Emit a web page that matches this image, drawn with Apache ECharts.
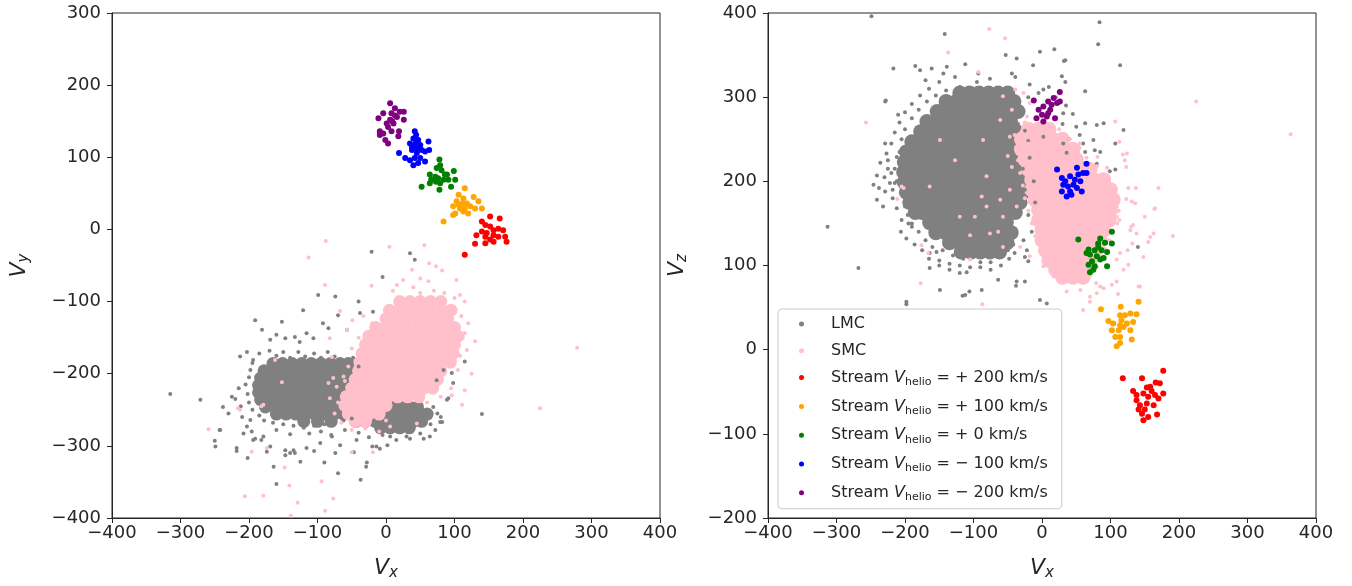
<!DOCTYPE html>
<html><head><meta charset="utf-8">
<script src="https://cdn.jsdelivr.net/npm/echarts@6/dist/echarts.min.js"></script>
<style>html,body{margin:0;padding:0;background:#fff}#c{width:1352px;height:586px}</style>
</head><body><div id="c"></div>
<script>
// ---------- axis ticks ----------
const xTicks = [-400, -300, -200, -100, 0, 100, 200, 300, 400];
const yTicksLeft = [-400, -300, -200, -100, 0, 100, 200, 300];
const zTicksRight = [-200, -100, 0, 100, 200, 300, 400];

// ---------- legend names ----------
const seriesNames = ['LMC', 'SMC', 'Stream +200', 'Stream +100', 'Stream +0', 'Stream -100', 'Stream -200'];
const streamLabels = ['+ 200', '+ 100', '+ 0', '\u2212 100', '\u2212 200'];

// ---------- LEFT PANEL (Vx, Vy) ----------
// dense LMC core rows: [Vy, [Vx ...]]
const lmcCoreRowsXY = [
  [-186, [-165,-151,-137,-123,-109,-95,-81,-67,-55]],
  [-196, [-178,-164,-150,-136,-122,-108,-94,-80,-66,-52]],
  [-206, [-183,-169,-155,-141,-127,-113,-99,-85,-71,-57,-45]],
  [-216, [-186,-172,-158,-144,-130,-116,-102,-88,-74,-60,-46]],
  [-226, [-186,-172,-158,-144,-130,-116,-102,-88,-74,-60,-46,-36]],
  [-236, [-183,-169,-155,-141,-127,-113,-99,-85,-71,-57,-43,-30]],
  [-246, [-176,-162,-148,-134,-120,-106,-92,-78,-64,-50,-36,-22,-8,6,20,34,46]],
  [-256, [-160,-146,-132,-118,-104,-90,-76,-62,-48,-34,-20,-6,8,22,36,50,60]],
  [-266, [-120,-100,-80,-44,-30,-16,-2,12,26,40,52]],
  [-275, [-8,6,20,34]]
];
// dense SMC core rows: [Vy, [Vx ...]]
const smcCoreRowsXY = [
  [-100, [20,35,50,65,80]],
  [-112, [5,20,35,50,65,80,95]],
  [-124, [0,15,30,45,60,75,90]],
  [-136, [-15,0,15,30,45,60,75,90,100]],
  [-148, [-25,-10,5,20,35,50,65,80,95,105]],
  [-160, [-30,-15,0,15,30,45,60,75,90,100]],
  [-172, [-35,-20,-5,10,25,40,55,70,85,98]],
  [-184, [-38,-23,-8,7,22,37,52,67,82,94]],
  [-196, [-40,-25,-10,5,20,35,50,65,80]],
  [-208, [-45,-30,-15,0,15,30,45,60,75]],
  [-220, [-50,-35,-20,-5,10,25,40,55,68]],
  [-232, [-58,-43,-28,-13,2,17,32,48]],
  [-244, [-60,-45,-30,-15,0]],
  [-256, [-55,-40,-25,-10]],
  [-266, [-45,-30]]
];
const lmcXY = [
  [-315,-228],[-271,-236],[-243,-278],[-250,-293],[-249,-301],[-218,-307],[-202,-317],[-164,-329],[-160,-353],[-125,-322],
  [-90,-323],[-70,-338],[-37,-347],[-28,-323],[-29,-329],[-105,-307],[-74,-310],[-47,-309],[-20,-301],[-9,-304],[2,-299],
  [-140,-310],[-135,-306],[-147,-313],[-174,-308],[-182,-292],[-191,-290],[-196,-280],[-203,-273],[-198,-264],
  [-191,-126],[-152,-128],[-181,-139],[-121,-112],[-99,-91],[-74,-93],[-70,-119],[-92,-130],[-84,-137],[-57,-139],
  [-38,-116],[-40,-100],[-19,-114],[-169,-153],[-160,-146],[-147,-151],[-133,-149],[-126,-156],[-116,-144],[-106,-151],
  [-213,-176],[-203,-170],[-194,-181],[-225,-232],[-238,-246],[-230,-255],[-242,-278],[-218,-303],[-208,-283],[-194,-292],
  [-179,-287],[-169,-301],[-147,-306],[-133,-310],[-116,-303],[-96,-296],[-79,-287],[-67,-299],[-43,-292],[-14,-301],
  [6,-287],[30,-287],[50,-283],[64,-287],[79,-267],[91,-234],[98,-213],[84,-195],[115,-183],[74,-209],[69,-246],
  [-21,-31],[35,-33],[42,-42],[-5,-66],[96,-199],[82,-267],[89,-236],[140,-256],
  [-185,-172],[-170,-168],[-160,-175],[-150,-170],[-140,-178],[-128,-170],[-118,-176],[-105,-172],[-95,-178],[-85,-170],
  [-75,-176],[-65,-182],[-55,-188],[-48,-178],[-40,-190],[-195,-185],[-198,-195],[-200,-205],[-205,-215],[-202,-228],
  [-200,-240],[-195,-250],[-185,-258],[-178,-265],[-165,-268],[-150,-270],[-135,-272],[-120,-275],[-105,-272],[-90,-270],
  [-78,-268],[-62,-265],[-50,-262],[-160,-278],[-140,-284],[-112,-283],[-95,-280],[-80,-285],[-60,-278],[-40,-282],
  [-25,-288],[-5,-285],[15,-292],[35,-290],[55,-290],[72,-278],[80,-260],[75,-255],[65,-270],[-215,-220],[-220,-235],
  [-210,-260],[-212,-245]
];
const smcXY = [
  [-88,-16],[-113,-39],[5,-24],[56,-22],[63,-47],[73,-51],[82,-57],[-89,-77],[-21,-78],[16,-77],[25,-70],[38,-56],
  [50,-68],[62,-72],[-67,-113],[-49,-126],[-57,-139],[-33,-120],[-82,-151],[-79,-177],[-152,-212],[-179,-243],
  [-213,-250],[-259,-277],[-196,-308],[-174,-303],[-148,-330],[-141,-355],[-206,-370],[-179,-369],[-129,-379],
  [-94,-349],[-77,-373],[-89,-390],[-139,-397],[-50,-309],[-19,-309],[6,-273],[45,-269],[111,-243],[115,-223],
  [118,-167],[115,-144],[108,-91],[103,-70],[279,-164],[225,-248],
  [-84,-213],[-77,-206],[-62,-204],[-72,-218],[-82,-234],[-62,-227],[-182,-245],[-162,-181],[-216,-248],
  [100,-95],[110,-120],[112,-150],[108,-175],[105,-195],[95,-220],[80,-232],[60,-240],[20,-95],[0,-110],[-20,-130],
  [-40,-150],[-50,-165],[-55,-190],[-60,-210],[-70,-240],[-75,-255],[-65,-268],[-50,-278],[-30,-276],[85,-88],
  [70,-85],[50,-88],[40,-80],[10,-85],[120,-130],[125,-200],[96,-230],[115,-100],[130,-155],[-10,-280],[0,-265]
];
const streamP200XY = [[152,18],[166,15],[140,11],[145,6],[152,4],[157,-1],[164,1],[171,-1],[140,-3],[147,-5],[157,-8],[132,-8],[145,-10],[152,-14],[164,-10],[174,-10],[176,-17],[157,-17],[145,-19],[130,-20],[115,-35]];
const streamP100XY = [[115,57],[106,48],[113,43],[128,45],[103,39],[111,36],[118,36],[135,39],[98,32],[108,29],[115,29],[123,32],[130,29],[140,29],[101,22],[113,25],[120,22],[98,20],[84,11],[106,34]];
const streamP0XY = [[78,97],[79,89],[74,85],[81,82],[64,76],[72,73],[86,76],[76,71],[84,69],[91,69],[99,81],[101,69],[64,64],[73,66],[79,64],[95,59],[52,59],[78,55],[66,69],[89,76]];
const streamM100XY = [[42,136],[44,131],[40,126],[47,124],[35,119],[42,117],[50,117],[62,122],[63,110],[46,112],[38,110],[52,110],[45,106],[57,108],[19,106],[28,99],[35,96],[42,99],[50,99],[57,94],[40,89],[47,92],[44,121],[38,114]];
const streamM200XY = [[6,175],[13,168],[20,163],[26,163],[-4,161],[8,161],[16,156],[6,152],[26,152],[-11,154],[1,147],[11,147],[3,142],[-9,136],[-4,133],[8,136],[19,136],[18,129],[-9,131],[-1,124],[3,119],[13,158],[9,150]];

// ---------- RIGHT PANEL (Vx, Vz) ----------
const lmcCoreRowsXZ = [
  [305, [-120,-106,-92,-78,-64,-50]],
  [295, [-140,-125,-111,-97,-83,-69,-55,-41]],
  [283, [-153,-139,-125,-111,-97,-83,-69,-57,-47,-35]],
  [271, [-168,-154,-140,-126,-112,-98,-84,-70,-56,-46]],
  [259, [-177,-163,-149,-135,-121,-107,-93,-79,-65,-51,-37]],
  [247, [-190,-184,-170,-156,-142,-128,-114,-100,-86,-72,-58,-44,-30]],
  [235, [-198,-188,-174,-160,-146,-132,-118,-104,-90,-76,-62,-48,-34,-26]],
  [223, [-201,-190,-176,-162,-148,-134,-120,-106,-92,-78,-64,-50,-36,-24]],
  [211, [-202,-191,-177,-163,-149,-135,-121,-107,-93,-79,-65,-51,-37,-23]],
  [199, [-201,-190,-176,-162,-148,-134,-120,-106,-92,-78,-64,-50,-36,-24]],
  [187, [-198,-187,-173,-159,-145,-131,-117,-103,-89,-75,-61,-47,-33,-27]],
  [175, [-193,-182,-168,-154,-140,-126,-112,-98,-84,-70,-56,-42,-32]],
  [163, [-185,-175,-161,-147,-133,-119,-105,-91,-77,-63,-49,-39]],
  [151, [-164,-150,-136,-122,-108,-94,-80,-66,-52]],
  [139, [-155,-141,-127,-113,-99,-85,-71,-57,-45]],
  [127, [-135,-121,-107,-93,-79,-65,-51]],
  [116, [-118,-104,-90,-76,-62]]
];
const smcCoreRowsXZ = [
  [262, [-20,-5,10]],
  [250, [-30,-15,0,15,30]],
  [238, [-30,-15,0,15,30,45]],
  [226, [-25,-10,5,20,35,50]],
  [214, [-20,-5,10,25,40,55,70]],
  [202, [-15,0,15,30,45,60,75,90]],
  [190, [-15,0,15,30,45,60,75,90,100]],
  [178, [-10,5,20,35,50,65,80,95,104]],
  [166, [-5,10,25,40,55,70,85,100]],
  [154, [-5,10,25,40,55,70,85,98]],
  [142, [0,15,30,45,60,75,90]],
  [130, [0,15,30,45,60,75,85]],
  [118, [5,20,35,50,65,78]],
  [106, [10,25,40,55,70]],
  [95, [20,35,50,65]],
  [86, [30,45,60]]
];
const lmcXZ = [
  [-217,334],[-185,337],[-178,332],[-161,334],[-139,336],[-112,339],[-93,328],[-76,322],[-229,295],[-210,279],
  [-246,196],[-229,188],[-229,245],[-227,233],[-215,198],[-212,229],[-205,154],[-195,150],[-190,146],[-164,115],
  [-154,116],[-164,97],[-268,97],[-198,57],[-149,71],[-120,91],[-112,65],[-88,71],[-64,83],[-37,81],[-25,81],[-3,59],
  [-39,324],[-18,315],[-13,338],[34,344],[29,325],[34,318],[114,338],[2,309],[31,281],[63,307],[63,269],[90,269],
  [80,267],[75,249],[77,237],[119,261],[107,214],[107,245],[-144,328],[-127,324],[-44,328],
  [-249,396],[84,389],[82,363],[-142,375],[-53,350],[-37,346],[-3,354],[18,357],[32,343],[-313,146],[-228,296],
  [-241,207],[-238,192],[-241,178],[-198,54],[-116,64],[-106,69],[-38,76],[7,55],[140,122],
  [-215,215],[-212,200],[-208,235],[-205,250],[-200,262],[-190,275],[-180,285],[-168,295],[-155,302],[-140,308],
  [-120,312],[-100,310],[-85,306],[-70,300],[-55,292],[-45,280],[-35,268],[-25,260],[-20,248],[-200,170],[-196,160],
  [-190,150],[-180,140],[-170,130],[-160,122],[-145,118],[-130,112],[-115,108],[-100,110],[-85,112],[-70,118],
  [-60,125],[-200,185],[-220,210],[-218,190],[-225,225],[-150,100],[-135,95],[-110,92],[-90,98],[-75,95],[-60,100],
  [-48,108],[-40,115],[-20,300],[-5,305],[10,312],[20,300],[35,290],[45,280],[50,265],[40,250],[55,255],[60,245],
  [30,268],[99,212],[80,221],[85,235],[63,235],[-25,110],[-20,105],[-22,118],[-27,130],[-15,140],[-20,160],
  [-10,175],[-25,190],[-12,200],[-28,215],[-18,228],[2,253],[31,245],[36,234],
  [-222,198],[-218,180],[-212,168],[-225,215],[-230,205],[-220,245],[-215,258],[-208,270],[-200,282],[-190,292],
  [-178,302],[-165,310],[-206,140],[-198,132],[-186,125],[-175,118],[-165,108],[-150,106],[-135,102],[-120,100],
  [-105,98],[-90,104],[-75,104],[-62,110],[-50,118],[-42,125],[-232,170],[-236,222],[-170,320],[-150,318],[-95,318]
];
const smcXZ = [
  [-77,381],[-54,370],[-137,353],[-93,330],[-257,270],[107,271],[113,247],[118,232],[121,225],[123,217],[170,192],
  [164,167],[163,138],[158,134],[143,75],[130,146],[109,170],[-177,79],[-87,54],[-202,192],[-211,179],[225,295],[363,256],
  [124,233],[81,229],[95,216],[84,198],[90,190],[95,184],[104,178],[126,192],[137,192],[123,179],[131,176],
  [136,174],[165,168],[150,158],[133,148],[129,142],[109,158],[113,154],[138,138],[155,128],[191,135],[132,126],
  [148,110],[114,115],[125,118],[109,107],[126,101],[119,95],[109,81],[102,77],[90,73],[80,67],[70,63],[141,75],
  [111,66],[60,47],[70,57],[85,75],[51,93],[41,87],[31,81],[2,99],[17,118],[7,101],[26,95],[68,93],[79,79],[56,71],
  [36,69],[17,87],
  [-149,249],[-86,249],[-81,206],[-88,182],[-81,170],[-76,138],[-64,140],[-57,158],[-61,178],[-47,190],[-44,217],
  [-47,253],[-44,285],[-57,301],[-39,309],[-27,305],[-18,293],[-22,277],[-61,273],[-30,259],[-25,229],[-37,170],
  [-57,122],[-32,122],[-18,111],[-105,136],[-120,158],[-98,158],[-127,225],[-164,194],[-176,124],[-205,194],
  [-166,115],[-105,107],
  [-10,260],[5,248],[20,255],[-35,240],[-50,230],[0,270],[15,265],[-20,245],[40,240],[50,230],[60,222],[70,215],
  [55,245],[35,255],[-25,270],[-10,275],[25,262],[40,250],[55,240],[65,228],[80,218],[95,205],[105,192],[110,180],
  [112,165],[110,150],[104,140],[98,130],[92,120],[85,110],[80,98],[70,88],[60,80],[45,82],[30,90],[20,100],[10,110],
  [0,122],[-10,135],[-15,150],[-20,165],[-25,180],[-28,195],[-32,210],[-35,225],[-38,240],[-40,255]
];
const streamP200XZ = [[177,-25],[118,-34],[146,-34],[166,-39],[172,-40],[153,-45],[158,-44],[133,-49],[138,-54],[148,-52],[155,-56],[165,-54],[170,-58],[138,-60],[143,-66],[153,-64],[163,-66],[141,-71],[150,-71],[146,-76],[155,-80],[148,-84],[168,-77],[160,-49],[177,-52]];
const streamP100XZ = [[86,48],[115,51],[141,57],[129,43],[138,42],[114,41],[121,41],[97,34],[104,31],[114,29],[124,31],[133,33],[102,23],[112,23],[119,27],[129,23],[107,15],[114,15],[131,12],[114,8],[109,4],[116,35]];
const streamP0XZ = [[102,140],[85,132],[53,131],[92,127],[102,126],[82,126],[68,119],[77,118],[87,118],[95,116],[70,113],[80,111],[90,109],[73,105],[85,107],[68,101],[95,99],[77,99],[70,92],[75,95],[82,122],[65,115]];
const streamM100XZ = [[65,221],[51,216],[53,208],[60,210],[65,210],[22,214],[29,204],[41,206],[48,202],[56,200],[31,196],[38,194],[46,196],[51,192],[29,188],[41,188],[58,188],[36,182],[43,184],[34,200]];
const streamM200XZ = [[26,306],[17,299],[22,293],[9,295],[2,289],[12,285],[-12,296],[-5,285],[0,279],[-8,275],[7,277],[19,275],[2,271],[9,281],[14,291],[26,295]];

// ---------- build ----------
function expandRows(rows) {
  const out = [];
  rows.forEach(([v, xs]) => xs.forEach(x => out.push([x, v])));
  return out;
}
const COL = {LMC:'#808080', SMC:'#ffc0cb', p200:'#ff0000', p100:'#ffa500', p0:'#008000', m100:'#0000ff', m200:'#800080'};
const FONT = 'DejaVu Sans';
const TXT = '#262626';

function sc(name, data, gi, color, size, z) {
  return {type:'scatter', name, data, xAxisIndex:gi, yAxisIndex:gi, symbol:'circle', symbolSize:size,
    itemStyle:{color, opacity:1}, silent:true, animation:false, z, large:false};
}
function panel(gi, coreL, coreS, lmc, smc, st, coreSize) {
  return [
    sc('LMC core', expandRows(coreL), gi, COL.LMC, coreSize, 1),
    sc('SMC core', expandRows(coreS), gi, COL.SMC, coreSize, 2),
    sc('LMC', lmc, gi, COL.LMC, 4, 3),
    sc('SMC', smc, gi, COL.SMC, 4, 4),
    sc(seriesNames[2], st[0], gi, COL.p200, 6, 5),
    sc(seriesNames[3], st[1], gi, COL.p100, 6, 5),
    sc(seriesNames[4], st[2], gi, COL.p0, 6, 5),
    sc(seriesNames[5], st[3], gi, COL.m100, 6, 5),
    sc(seriesNames[6], st[4], gi, COL.m200, 6, 5)
  ];
}
const minus = v => String(v).replace('-', '\u2212');
const nameRich = {
  v:{fontFamily:FONT, fontStyle:'italic', fontSize:22, color:TXT, lineHeight:26, verticalAlign:'middle'},
  s:{fontFamily:FONT, fontStyle:'italic', fontSize:15, color:TXT, lineHeight:14, verticalAlign:'bottom'}
};
function xAx(gi) {
  return {gridIndex:gi, type:'value', min:xTicks[0], max:xTicks[xTicks.length-1], interval:100,
    splitLine:{show:false}, axisLine:{show:true, onZero:false, lineStyle:{color:TXT}},
    axisTick:{show:true, length:5, lineStyle:{color:TXT}},
    axisLabel:{fontFamily:FONT, fontSize:18, color:TXT, margin:6, formatter:minus},
    name:'{v|V}{s|x}', nameLocation:'middle', nameGap:37, nameTextStyle:{rich:nameRich}};
}
function yAx(gi, ticks, sub, gap) {
  return {gridIndex:gi, type:'value', min:ticks[0], max:ticks[ticks.length-1], interval:100,
    splitLine:{show:false}, axisLine:{show:true, onZero:false, lineStyle:{color:TXT}},
    axisTick:{show:true, length:5, lineStyle:{color:TXT}},
    axisLabel:{fontFamily:FONT, fontSize:18, color:TXT, margin:11, formatter:minus},
    name:'{v|V}{s|' + sub + '}', nameLocation:'middle', nameGap:gap, nameRotate:90, nameTextStyle:{rich:nameRich}};
}

const chart = echarts.init(document.getElementById('c'), null, {renderer:'canvas'});
const legendRich = {
  t:{fontFamily:FONT, fontSize:16, color:TXT, lineHeight:20, verticalAlign:'middle'},
  i:{fontFamily:FONT, fontStyle:'italic', fontSize:16, color:TXT, lineHeight:20, verticalAlign:'middle'},
  s:{fontFamily:FONT, fontSize:11, color:TXT, lineHeight:11, verticalAlign:'bottom'}
};
chart.setOption({
  animation:false,
  backgroundColor:'#ffffff',
  grid:[
    {left:112, top:13, width:548, height:505, show:true, borderColor:TXT, borderWidth:1, backgroundColor:'transparent'},
    {left:768, top:13, width:548, height:505, show:true, borderColor:TXT, borderWidth:1, backgroundColor:'transparent'}
  ],
  xAxis:[xAx(0), xAx(1)],
  yAxis:[yAx(0, yTicksLeft, 'y', 80), yAx(1, zTicksRight, 'z', 78)],
  legend:{
    data:seriesNames.map(n => ({name:n, icon:'circle'})),
    orient:'vertical', left:778, top:309, padding:[7,14,6,21], itemGap:10.8,
    itemWidth:5, itemHeight:5, selectedMode:false,
    backgroundColor:'rgba(255,255,255,0.8)', borderColor:'#cccccc', borderWidth:1, borderRadius:4,
    textStyle:{fontFamily:FONT, fontSize:16, color:TXT, padding:[0,0,0,22], rich:legendRich},
    formatter: function(n) {
      const k = seriesNames.indexOf(n);
      if (k < 2) return '{t|' + n + '}';
      return '{t|Stream }{i|V}{s|helio}{t| = ' + streamLabels[k-2] + ' km/s}';
    },
    z:20
  },
  series:[
    ...panel(0, lmcCoreRowsXY, smcCoreRowsXY, lmcXY, smcXY,
      [streamP200XY, streamP100XY, streamP0XY, streamM100XY, streamM200XY], 13),
    ...panel(1, lmcCoreRowsXZ, smcCoreRowsXZ, lmcXZ, smcXZ,
      [streamP200XZ, streamP100XZ, streamP0XZ, streamM100XZ, streamM200XZ], 15)
  ]
});
</script></body></html>
